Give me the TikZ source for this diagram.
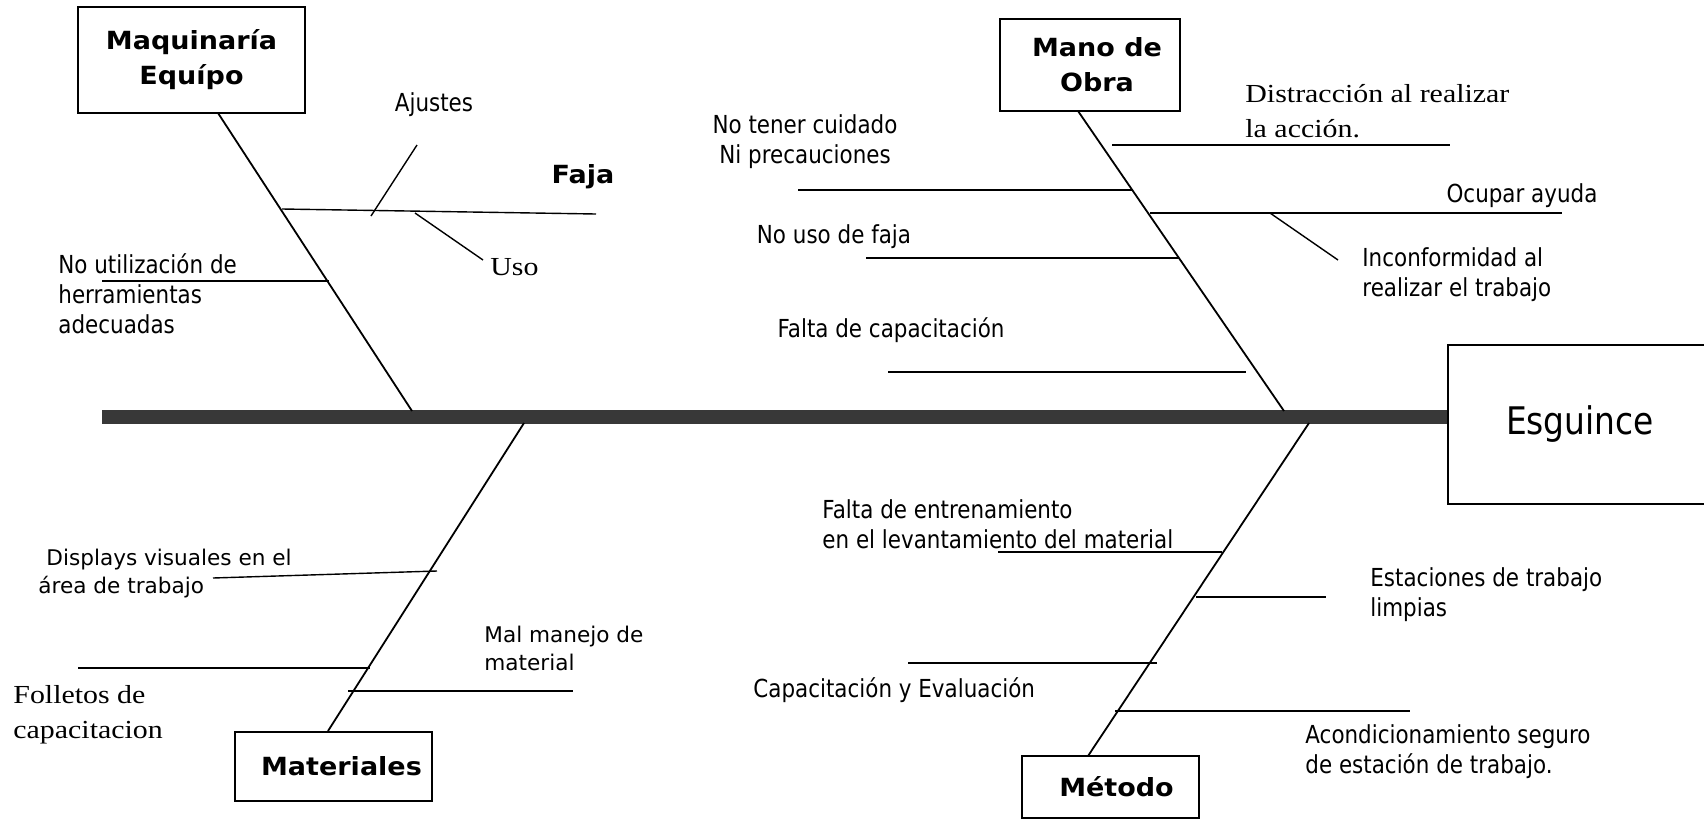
\documentclass[tikz,border=0pt]{standalone}
\usepackage{fontspec}
\setmainfont{DejaVu Sans}
\newfontfamily\narrowfont[FakeStretch=0.865]{DejaVu Sans}
\newfontfamily\widefont{DejaVu Sans}
\newfontfamily\serifont[FakeStretch=1.15]{Liberation Serif}
\newfontfamily\headfont[FakeStretch=1.08]{DejaVu Sans}
\usetikzlibrary{positioning,calc}
\tikzset{catbox/.style={
            draw,
            line width=1pt,
            inner sep=0pt,
            align=center,
            font=\headfont\bfseries\fontsize{12.5}{17.5}\selectfont
        },
        effectbox/.style={
            draw,
            line width=1pt,
            inner sep=0pt,
            font=\narrowfont\fontsize{19}{22}\selectfont
        },
        spine/.style={
            line width=7pt,
            black!78
        },
        bone/.style={
            line width=0.9pt
        },
        rib/.style={
            line width=0.7pt
        },
        cause/.style={
            inner sep=0pt,
            align=left,
            font=\narrowfont\fontsize{12.4}{15}\selectfont
        },
        widecause/.style={
            inner sep=0pt,
            align=left,
            font=\widefont\fontsize{10.8}{14}\selectfont
        },
        serifcause/.style={
            inner sep=0pt,
            align=left,
            font=\serifont\fontsize{13}{17.5}\selectfont
        }
    }

\begin{document}
\begin{tikzpicture}[x=0.5pt,y=-0.5pt]
    \useasboundingbox (0,0) rectangle (1704,820);

    % categories and effect
    \node[catbox, minimum width=113.5pt, minimum height=53pt] (maq) at (191.5,60) {Maquinaría\\Equípo};
    \node[catbox, minimum width=90pt, minimum height=46pt] (mano) at (1090,65) {\hspace*{7pt}Mano de\\\hspace*{7pt}Obra};
    \node[catbox, minimum width=98.5pt, minimum height=34.5pt] (mat) at (333.5,766.5) {\hspace*{8pt}Materiales};
    \node[catbox, minimum width=88.5pt, minimum height=31pt] (met) at (1110.5,787) {\hspace*{6pt}Método};
    \node[effectbox, minimum width=132pt, minimum height=79.5pt] (esg) at (1580,424.5) {Esguince\\[4pt]};

    % spine
    \coordinate (tail) at (102,417);
    \draw[spine] (tail) -- (tail -| esg.west);

    % bones
    \coordinate (maqtop) at (218,113);
    \coordinate (maqfoot) at (412,411);
    \coordinate (manotop) at (1078,111);
    \coordinate (manofoot) at (1284,411);
    \coordinate (matfoot) at (524,423);
    \coordinate (mattop) at (328,731);
    \coordinate (metfoot) at (1309,423);
    \coordinate (mettop) at (1088,756);
    \draw[bone] (maqtop) -- (maqfoot);
    \draw[bone] (manotop) -- (manofoot);
    \draw[bone] (mattop) -- (matfoot);
    \draw[bone] (mettop) -- (metfoot);

    % Maquinaria
    \draw[rib] (282,209) -- (596,214);
    \draw[rib] (371,216) -- (417,145);
    \draw[rib] (415,213) -- (483,260);
    \draw[rib] (102,281) -- (329,281);
    \node[cause] (ajustes) at (434,105) {Ajustes};
    \node[catbox, draw=none] (faja) at (583,177) {Faja};
    \node[serifcause, anchor=west] (uso) at (490,267) {Uso};
    \node[cause, anchor=west] (herr) at (58,294) {No utilización de\\herramientas\\adecuadas};

    % Mano de obra
    \draw[rib] (1112,145) -- (1450,145);
    \draw[rib] (798,190) -- (1132,190);
    \draw[rib] (1150,213) -- (1562,213);
    \draw[rib] (1270,213) -- (1338,260);
    \draw[rib] (866,258) -- (1179,258);
    \draw[rib] (888,372) -- (1246,372);
    \node[serifcause, anchor=west] (distr) at (1245,111) {Distracción al realizar\\la acción.};
    \node[cause, align=center] (cuidado) at (805,142) {No tener cuidado\\Ni precauciones};
    \node[cause] (ocupar) at (1522,196) {Ocupar ayuda};
    \node[cause, anchor=west] (inconf) at (1362,275) {Inconformidad al\\realizar el trabajo};
    \node[cause] (nofaja) at (834,237) {No uso de faja};
    \node[cause] (faltacap) at (891,330) {Falta de capacitación};

    % Materiales
    \draw[rib] (213,578) -- (437,571);
    \draw[rib] (78,668) -- (370,668);
    \draw[rib] (348,691) -- (573,691);
    \node[widecause, anchor=west] (displays) at (38,574) {\hspace*{4pt}Displays visuales en el\\área de trabajo};
    \node[serifcause, anchor=west] (folletos) at (13,715) {Folletos de\\capacitacion};
    \node[widecause, anchor=west] (malmanejo) at (484,648) {Mal manejo de\\material};

    % Metodo
    \draw[rib] (998,552) -- (1222,552);
    \draw[rib] (1196,597) -- (1326,597);
    \draw[rib] (908,663) -- (1157,663);
    \draw[rib] (1115,711) -- (1410,711);
    \node[cause, anchor=west] (entren) at (822,524) {Falta de entrenamiento\\en el levantamiento del material};
    \node[cause, anchor=west] (estac) at (1370,595) {Estaciones de trabajo\\limpias};
    \node[cause, anchor=west] (capeval) at (753,690) {Capacitación y Evaluación};
    \node[cause, anchor=west] (acond) at (1305,752) {Acondicionamiento seguro\\de estación de trabajo.};

\end{tikzpicture}
\end{document}
